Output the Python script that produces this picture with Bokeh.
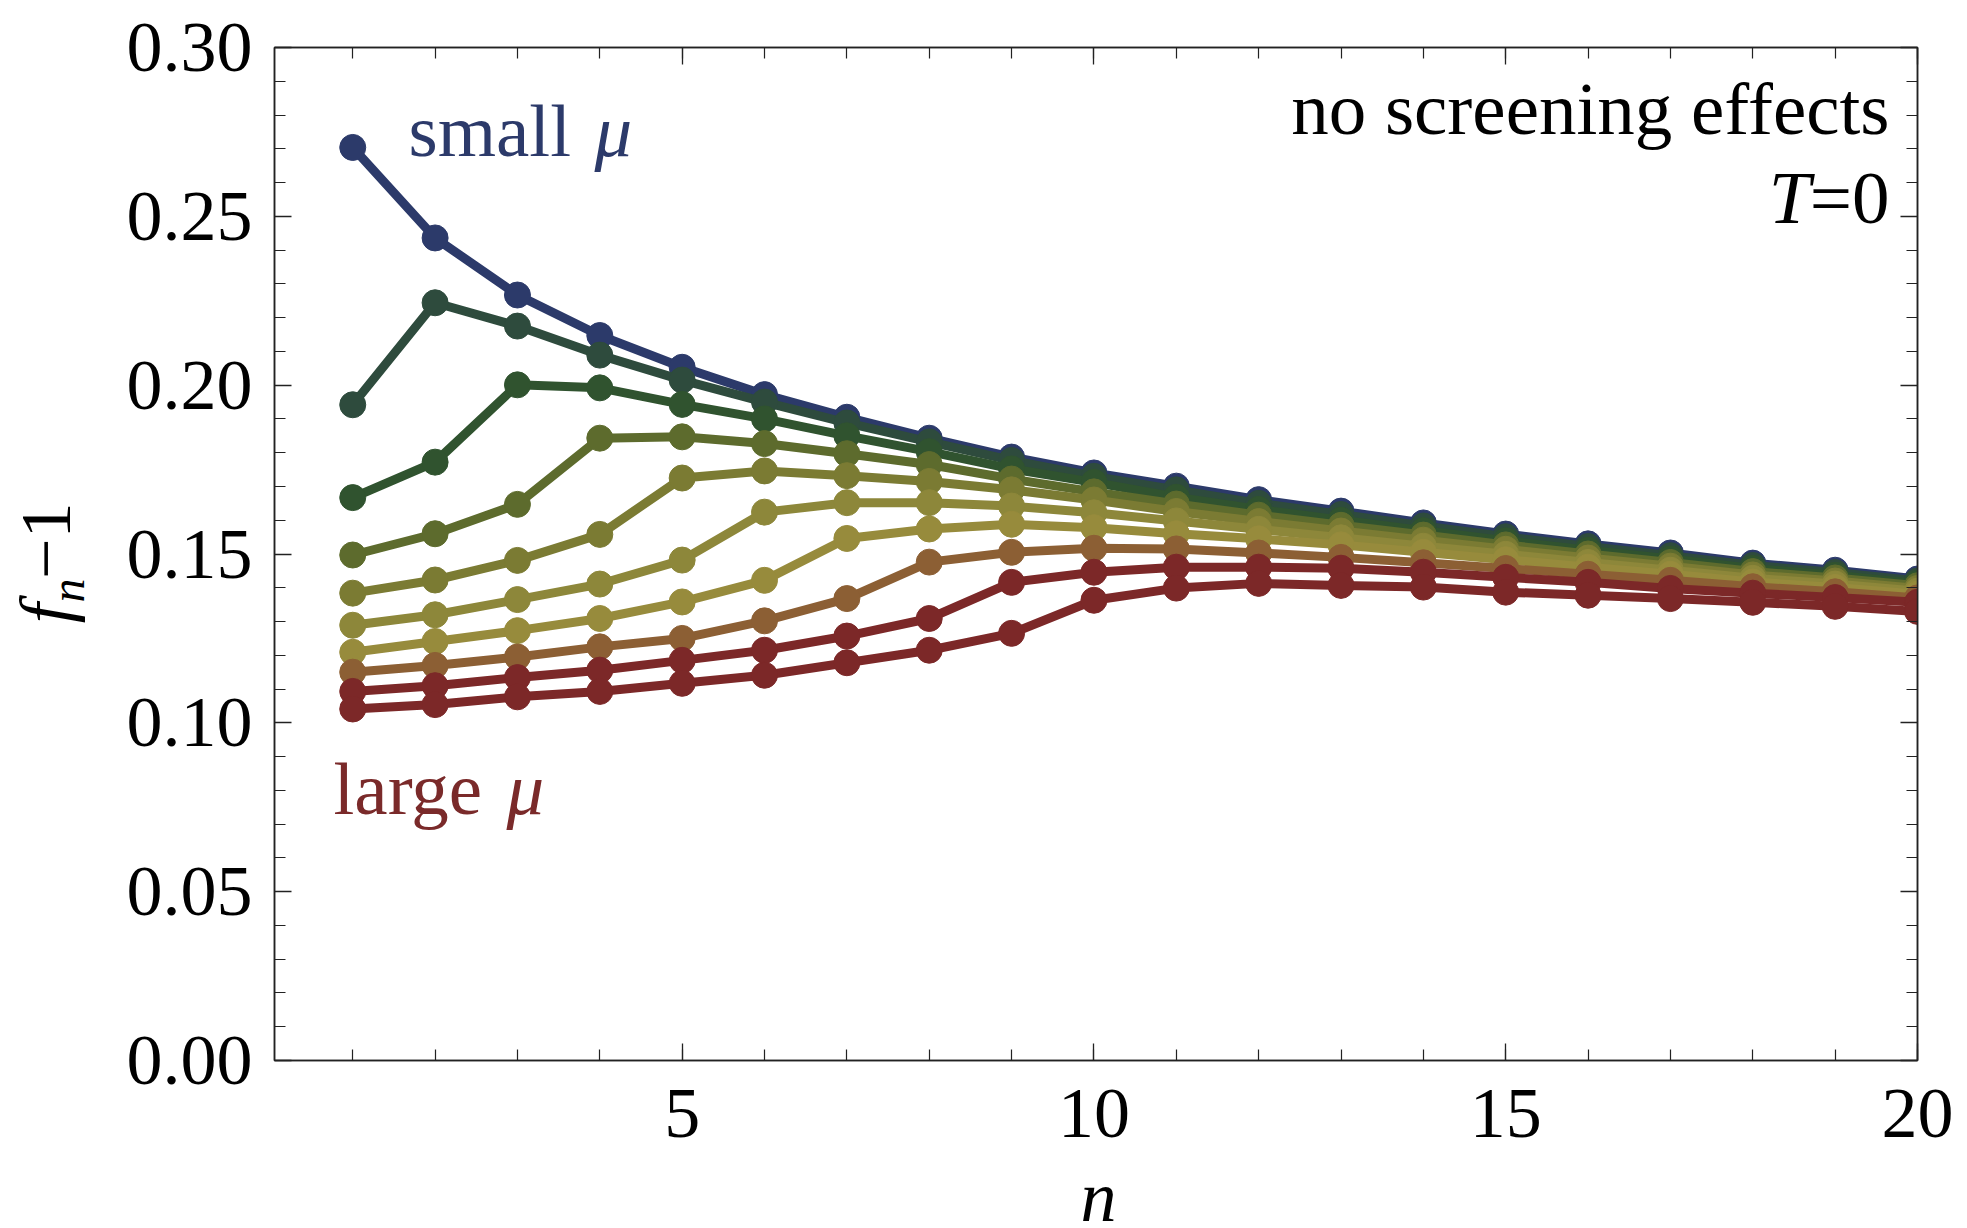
import math

from bokeh.plotting import figure
from bokeh.layouts import column, row
from bokeh.models import (Range1d, LinearAxis, FixedTicker, Label,
                          CustomJSTickFormatter)
from bokeh.core.properties import value
from bokeh.embed import file_html
from bokeh.resources import INLINE

# ---- data: f_n - 1 versus n, one series per chemical potential (small -> large mu)
n = list(range(1, 21))

mu_01 = [0.2704, 0.2436, 0.2267, 0.2147, 0.2053, 0.1972, 0.1905, 0.1843, 0.1787, 0.1740,
         0.1701, 0.1661, 0.1627, 0.1592, 0.1559, 0.1530, 0.1503, 0.1473, 0.1452, 0.1426]
mu_02 = [0.1942, 0.2244, 0.2175, 0.2089, 0.2015, 0.1950, 0.1888, 0.1832, 0.1777, 0.1730,
         0.1690, 0.1650, 0.1617, 0.1583, 0.1551, 0.1522, 0.1495, 0.1466, 0.1445, 0.1420]
mu_03 = [0.1667, 0.1772, 0.2001, 0.1992, 0.1943, 0.1900, 0.1850, 0.1803, 0.1752, 0.1712,
         0.1668, 0.1632, 0.1600, 0.1569, 0.1539, 0.1511, 0.1485, 0.1457, 0.1437, 0.1413]
mu_04 = [0.1497, 0.1560, 0.1647, 0.1843, 0.1847, 0.1827, 0.1797, 0.1765, 0.1722, 0.1684,
         0.1648, 0.1615, 0.1585, 0.1556, 0.1527, 0.1500, 0.1475, 0.1448, 0.1429, 0.1406]
mu_05 = [0.1384, 0.1423, 0.1481, 0.1558, 0.1725, 0.1746, 0.1732, 0.1715, 0.1690, 0.1660,
         0.1626, 0.1596, 0.1568, 0.1541, 0.1514, 0.1488, 0.1464, 0.1438, 0.1420, 0.1398]
mu_06 = [0.1289, 0.1320, 0.1365, 0.1411, 0.1482, 0.1624, 0.1652, 0.1652, 0.1642, 0.1622,
         0.1598, 0.1573, 0.1548, 0.1523, 0.1499, 0.1475, 0.1452, 0.1428, 0.1411, 0.1390]
mu_07 = [0.1209, 0.1241, 0.1273, 0.1309, 0.1358, 0.1422, 0.1546, 0.1574, 0.1588, 0.1578,
         0.1560, 0.1545, 0.1527, 0.1505, 0.1483, 0.1461, 0.1440, 0.1417, 0.1401, 0.1381]
mu_08 = [0.1150, 0.1170, 0.1195, 0.1225, 0.1250, 0.1302, 0.1368, 0.1476, 0.1505, 0.1517,
         0.1515, 0.1503, 0.1490, 0.1474, 0.1457, 0.1440, 0.1422, 0.1403, 0.1388, 0.1370]
mu_09 = [0.1093, 0.1110, 0.1134, 0.1156, 0.1185, 0.1215, 0.1257, 0.1309, 0.1416, 0.1446,
         0.1461, 0.1461, 0.1458, 0.1446, 0.1431, 0.1416, 0.1398, 0.1384, 0.1371, 0.1357]
mu_10 = [0.1041, 0.1054, 0.1077, 0.1093, 0.1117, 0.1141, 0.1178, 0.1215, 0.1265, 0.1363,
         0.1399, 0.1413, 0.1407, 0.1402, 0.1387, 0.1378, 0.1368, 0.1357, 0.1345, 0.1330]

series = [mu_01, mu_02, mu_03, mu_04, mu_05, mu_06, mu_07, mu_08, mu_09, mu_10]
colors = ["#2c3a6a", "#2e4b3d", "#30532f", "#5d6b2d", "#7b7b33",
          "#8d873a", "#978b3c", "#8c5f34", "#7c2828", "#7c2828"]

x_ticks = [5, 10, 15, 20]
y_ticks = [0.0, 0.05, 0.10, 0.15, 0.20, 0.25, 0.30]
y_minor_ticks = [i / 100 for i in range(0, 31)]

# ---- page layout (pixels)
W, H = 1967, 1228
YLAB_W = 110            # strip holding the rotated y title
XLAB_H = 58             # strip holding the x title
MAIN_W, MAIN_H = W - YLAB_W, H - XLAB_H
FRAME_L, FRAME_R, FRAME_T, FRAME_B = 274, 1917, 47, 1060
X0, X1 = 0.05, 20.0
Y0, Y1 = 0.0, 0.30


def dx(px):
    return X0 + (px - FRAME_L) * (X1 - X0) / (FRAME_R - FRAME_L)


def dy(py):
    return Y1 - (py - FRAME_T) * (Y1 - Y0) / (FRAME_B - FRAME_T)


SERIF = "Liberation Serif"
INK = "#222222"

p = figure(width=MAIN_W, height=MAIN_H, x_range=Range1d(X0, X1), y_range=Range1d(Y0, Y1),
           output_backend="svg", toolbar_location=None,
           min_border_left=FRAME_L - YLAB_W, min_border_right=W - FRAME_R,
           min_border_top=FRAME_T, min_border_bottom=MAIN_H - FRAME_B)
p.grid.visible = False
p.outline_line_color = INK
p.outline_line_width = 1.5
p.background_fill_color = "white"
p.border_fill_color = "white"


def style_axis(ax, labels=True, standoff=20):
    ax.axis_line_color = INK
    ax.axis_line_width = 1.5
    ax.major_tick_line_color = INK
    ax.minor_tick_line_color = INK
    ax.major_tick_line_width = 1.3
    ax.minor_tick_line_width = 1.2
    ax.major_tick_in = 17
    ax.major_tick_out = 0
    ax.minor_tick_in = 11
    ax.minor_tick_out = 0
    ax.major_label_text_font = SERIF
    ax.major_label_text_color = "black"
    ax.major_label_standoff = standoff
    if labels:
        ax.major_label_text_font_size = "72px"
    else:
        ax.major_label_text_font_size = "0px"
        ax.major_label_standoff = 0


p.xaxis.ticker = FixedTicker(ticks=x_ticks, minor_ticks=n)
p.yaxis.ticker = FixedTicker(ticks=y_ticks, minor_ticks=y_minor_ticks)
p.yaxis.formatter = CustomJSTickFormatter(code="return tick.toFixed(2);")
style_axis(p.xaxis[0], True, 29)
style_axis(p.yaxis[0], True, 22)

top_ax = LinearAxis(ticker=FixedTicker(ticks=x_ticks, minor_ticks=n))
right_ax = LinearAxis(ticker=FixedTicker(ticks=y_ticks, minor_ticks=y_minor_ticks))
style_axis(top_ax, False)
style_axis(right_ax, False)
p.add_layout(top_ax, "above")
p.add_layout(right_ax, "right")

# ---- curves: lines with filled point markers, small mu drawn first
for ys, c in zip(series, colors):
    p.line(n, ys, line_color=c, line_width=9, line_join="round", line_cap="round")
    p.scatter(n, ys, size=26, marker="circle", fill_color=c, line_color=c, line_width=1)


def add_label(text, px, py, color="black", size=75, style="normal", align="left"):
    # py is the wanted baseline; labels are anchored on their middle line
    mid = py - 0.34 * size
    p.add_layout(Label(x=dx(px), y=dy(mid), text=text, text_font=SERIF,
                       text_font_size=f"{size}px", text_font_style=style,
                       text_color=color, text_align=align, text_baseline="middle"))


# curve annotations
add_label("small", 408, 155, color="#2c3a6a")
add_label("\u03bc", 594, 155, color="#2c3a6a", style="italic")
add_label("large", 333, 813, color="#7a2a2a")
add_label("\u03bc", 506, 813, color="#7a2a2a", style="italic")

# condition text, top right
add_label("no screening effects", 1889, 133, align="right")
add_label("=0", 1889, 222, align="right")
add_label("T", 1810, 222, style="italic", align="right")


def strip(width, height):
    f = figure(width=width, height=height, x_range=Range1d(0, width),
               y_range=Range1d(0, height), output_backend="svg",
               toolbar_location=None, x_axis_type=None, y_axis_type=None,
               min_border=0)
    f.grid.visible = False
    f.outline_line_color = None
    f.background_fill_color = "white"
    f.border_fill_color = "white"
    return f


# ---- y title, written bottom-to-top:  f_n - 1
ylab = strip(YLAB_W, MAIN_H)
rot = math.pi / 2


def ytitle(text, base_x, start_py, size, style):
    # base_x: baseline column; start_py: where the text begins (page y)
    ylab.text(x=[base_x - 0.34 * size], y=[MAIN_H - start_py], text=[text], angle=rot,
              text_font=value(SERIF), text_font_size=f"{size}px",
              text_font_style=style, text_color="black",
              text_align="left", text_baseline="middle")


ytitle("f", 70, 665, 72, "italic")
ytitle("n", 83, 641, 48, "italic")
ytitle("\u22121", 70, 614, 72, "normal")

# ---- x title
xlab = strip(W, XLAB_H)
xlab.text(x=[1098], y=[H - (1221 - 0.34 * 72)], text=["n"],
          text_font=value(SERIF), text_font_size="72px", text_font_style="italic",
          text_color="black", text_align="center", text_baseline="middle")

layout = column(row(ylab, p, spacing=0), xlab, spacing=0)
open("out.html", "w").write(file_html(layout, INLINE))
